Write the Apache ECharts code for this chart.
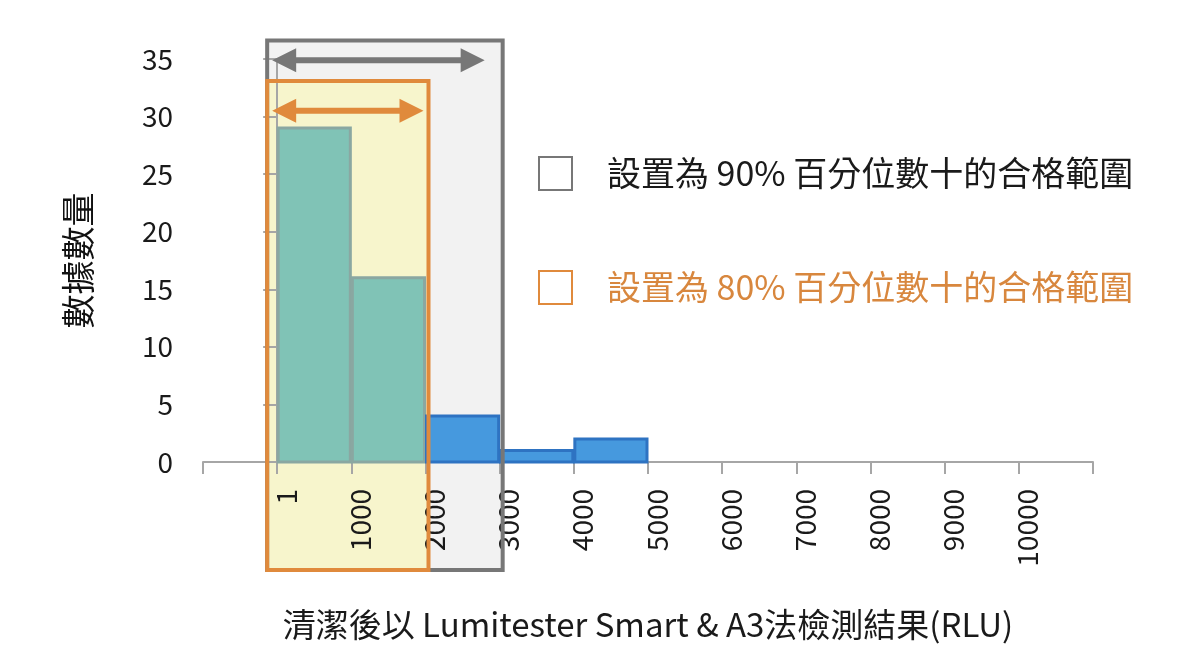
<!DOCTYPE html>
<html>
<head>
<meta charset="utf-8">
<script src="https://cdn.jsdelivr.net/npm/echarts@6/dist/echarts.min.js"></script>
<style>
  html, body { margin: 0; padding: 0; background: #fff; }
  #main { width: 1200px; height: 663px; }
</style>
</head>
<body>
<div id="main"></div>
<script>
// 直方圖資料 (RLU 區間起點, 數量)
var binStarts = [0, 1000, 2000, 3000, 4000];
var binWidth = 1000;
var counts = [29, 16, 4, 1, 2];

// 合格範圍 (上限 RLU)
var rangeNames = ['設置為 90% 百分位數十的合格範圍', '設置為 80% 百分位數十的合格範圍'];
var rangeEnds = [3000, 2000];

var yTicks = [0, 5, 10, 15, 20, 25, 30, 35];
var xTickLabels = ['1', '1000', '2000', '3000', '4000', '5000', '6000', '7000', '8000', '9000', '10000'];

var FONT = '"Noto Sans CJK TC", "Noto Sans", sans-serif';
var GRAY = '#777777';
var ORANGE = '#e08a3c';

var myChart = echarts.init(document.getElementById('main'));

// 框的樣式: 上緣 / 箭頭 (數值座標)
var boxStyle = [
  { top: 36.6, arrow: 34.9, fill: '#f2f2f2', stroke: GRAY, arrowShrink: 18 },
  { top: 33.1, arrow: 30.5, fill: '#f7f5cc', stroke: ORANGE, arrowShrink: 5 }
];

function boxRect(i, api) {
  var s = boxStyle[i];
  var p0 = api.coord([0, s.top]);
  var p1 = api.coord([rangeEnds[i], 0]);
  return { x0: p0[0] - 10, x1: p1[0] + 3, y0: p0[1], y1: p1[1] + 108 };
}

function fillSeries(i) {
  return {
    type: 'custom',
    z: 0.5,
    silent: true,
    clip: false,
    data: [[rangeEnds[i]]],
    renderItem: function (params, api) {
      var r = boxRect(i, api);
      return {
        type: 'rect',
        shape: { x: r.x0, y: r.y0, width: r.x1 - r.x0, height: r.y1 - r.y0 },
        style: { fill: boxStyle[i].fill }
      };
    }
  };
}

function arrowPoints(xa, xb, y) {
  var sh = 3, hl = 24, hh = 12;
  return [
    [xa, y], [xa + hl, y - hh], [xa + hl, y - sh], [xb - hl, y - sh], [xb - hl, y - hh],
    [xb, y], [xb - hl, y + hh], [xb - hl, y + sh], [xa + hl, y + sh], [xa + hl, y + hh]
  ];
}

function borderSeries(i) {
  return {
    type: 'custom',
    name: rangeNames[i],
    z: 3 + i,
    silent: true,
    clip: false,
    itemStyle: { color: '#fff', borderColor: boxStyle[i].stroke, borderWidth: 2 },
    data: [[rangeEnds[i]]],
    renderItem: function (params, api) {
      var s = boxStyle[i];
      var r = boxRect(i, api);
      var ay = api.coord([0, s.arrow])[1];
      return {
        type: 'group',
        children: [{
          type: 'rect',
          shape: { x: r.x0, y: r.y0, width: r.x1 - r.x0, height: r.y1 - r.y0 },
          style: { fill: 'none', stroke: s.stroke, lineWidth: 4 }
        }, {
          type: 'polygon',
          shape: { points: arrowPoints(r.x0 + 5, r.x1 - s.arrowShrink, ay) },
          style: { fill: s.stroke }
        }]
      };
    }
  };
}

var barData = binStarts.map(function (s, i) { return [s, s + binWidth, counts[i]]; });

var option = {
  backgroundColor: '#fff',
  animation: false,
  grid: { left: 203, right: 107, top: 59, bottom: 201 },
  legend: {
    data: [
      { name: rangeNames[0], icon: 'rect', textStyle: { color: '#1a1a1a' } },
      { name: rangeNames[1], icon: 'rect', textStyle: { color: '#d8873e' } }
    ],
    orient: 'vertical',
    left: 533,
    top: 151,
    itemWidth: 33,
    itemHeight: 33,
    itemGap: 79,
    selectedMode: false,
    textStyle: { fontFamily: FONT, fontSize: 34, lineHeight: 33, padding: [0, 0, 0, 30] }
  },
  xAxis: {
    type: 'value',
    min: -1000,
    max: 11000,
    interval: 1000,
    z: 1,
    name: '清潔後以 Lumitester Smart & A3法檢測結果(RLU)',
    nameLocation: 'middle',
    nameGap: 146,
    nameTextStyle: { fontFamily: FONT, fontSize: 33, color: '#1a1a1a' },
    splitLine: { show: false },
    axisLine: { lineStyle: { color: '#a6a6a6', width: 2 } },
    axisTick: { length: 12, lineStyle: { color: '#a6a6a6', width: 2 } },
    axisLabel: {
      rotate: 90,
      margin: 27,
      showMinLabel: true,
      showMaxLabel: true,
      fontFamily: FONT,
      fontSize: 28,
      lineHeight: 18,
      verticalAlign: 'top',
      color: '#1a1a1a',
      formatter: function (v) {
        var k = Math.round(v / 1000);
        return (k >= 0 && k < xTickLabels.length) ? xTickLabels[k] : '';
      }
    }
  },
  yAxis: {
    type: 'value',
    min: yTicks[0],
    max: yTicks[yTicks.length - 1],
    interval: 5,
    z: 1,
    name: '數據數量',
    nameLocation: 'middle',
    nameGap: 108,
    nameRotate: 90,
    nameTextStyle: { fontFamily: FONT, fontSize: 34, color: '#111' },
    splitLine: { show: false },
    axisLine: { show: true, lineStyle: { color: '#a6a6a6', width: 2 } },
    axisTick: { show: true, length: 14, lineStyle: { color: '#a6a6a6', width: 2 } },
    axisLabel: { margin: 30, fontFamily: FONT, fontSize: 28, color: '#1a1a1a' }
  },
  series: [
    fillSeries(0),
    fillSeries(1),
    {
      type: 'custom',
      z: 2,
      data: barData,
      renderItem: function (params, api) {
        var p0 = api.coord([api.value(0), api.value(2)]);
        var p1 = api.coord([api.value(1), 0]);
        var inRange = api.value(1) <= rangeEnds[1];
        return {
          type: 'rect',
          shape: { x: p0[0] + 1, y: p0[1], width: p1[0] - p0[0] - 2, height: p1[1] - p0[1] },
          style: {
            fill: inRange ? '#80c3b6' : '#4699de',
            stroke: inRange ? '#8aa7a1' : '#2e73c2',
            lineWidth: 3
          }
        };
      }
    },
    borderSeries(0),
    borderSeries(1)
  ]
};

myChart.setOption(option);
</script>
</body>
</html>
